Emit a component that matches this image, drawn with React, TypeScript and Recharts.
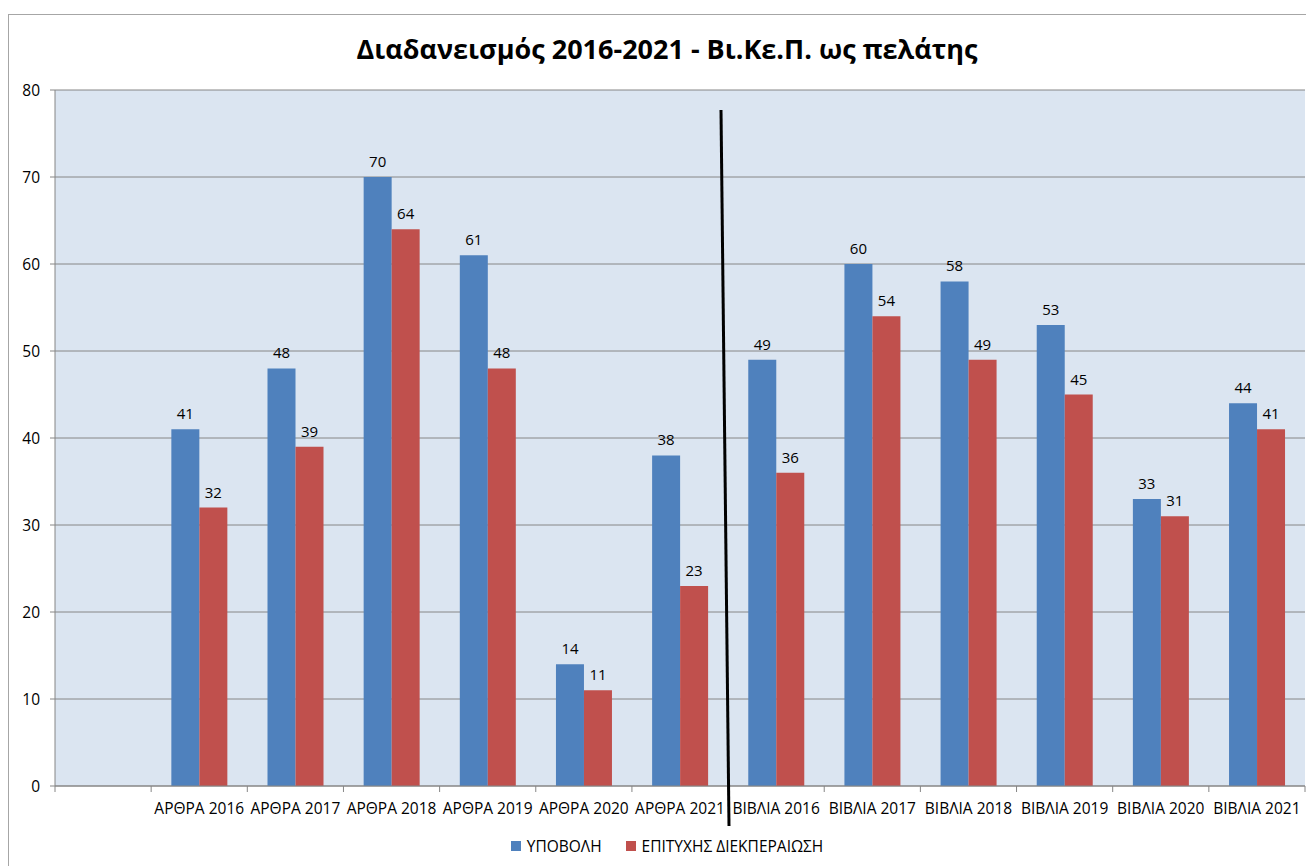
import React from 'react';
import { BarChart, Bar, XAxis, YAxis, CartesianGrid, LabelList } from 'recharts';

const categories = ['', 'ΑΡΘΡΑ 2016', 'ΑΡΘΡΑ 2017', 'ΑΡΘΡΑ 2018', 'ΑΡΘΡΑ 2019', 'ΑΡΘΡΑ 2020', 'ΑΡΘΡΑ 2021',
    'ΒΙΒΛΙΑ 2016', 'ΒΙΒΛΙΑ 2017', 'ΒΙΒΛΙΑ 2018', 'ΒΙΒΛΙΑ 2019', 'ΒΙΒΛΙΑ 2020', 'ΒΙΒΛΙΑ 2021'];
const submitted = [null, 41, 48, 70, 61, 14, 38, 49, 60, 58, 53, 33, 44];
const completed = [null, 32, 39, 64, 48, 11, 23, 36, 54, 49, 45, 31, 41];
const yTicks = [0, 10, 20, 30, 40, 50, 60, 70, 80];

const FONT = '"Open Sans", "DejaVu Sans", sans-serif';
const W = 1314;
const H = 866;
const PLOT_LEFT = 55;
const PLOT_RIGHT = 1305;
const PLOT_TOP = 90;
const PLOT_BOTTOM = 786;
const BAND = (PLOT_RIGHT - PLOT_LEFT) / categories.length;

const data = categories.map((c, i) => ({ name: c, sub: submitted[i], done: completed[i] }));

const XTick = (props: any) => {
    const { x, y, payload } = props;
    const left = x - BAND / 2;
    return (
        <g>
            <line x1={left} y1={PLOT_BOTTOM} x2={left} y2={PLOT_BOTTOM + 6} stroke="#868686" />
            {payload.index === categories.length - 1 && (
                <line x1={x + BAND / 2} y1={PLOT_BOTTOM} x2={x + BAND / 2} y2={PLOT_BOTTOM + 6} stroke="#868686" />
            )}
            <text x={x} y={y + 20} textAnchor="middle" fontSize={15.5} fill="#000" fontFamily={FONT}>
                {payload.value}
            </text>
        </g>
    );
};

export default function App() {
    return (
        <div style={{ position: 'relative', width: W, height: H, margin: '-8px 0 0 -8px', overflow: 'hidden', background: '#fff' }}>
            <div style={{ position: 'absolute', left: 8, top: 14, width: W + 20, height: H + 20, border: '1px solid #a6a6a6' }} />
            <div style={{ position: 'absolute', left: 0, top: 30, width: W + 20, textAlign: 'center', fontFamily: FONT, fontWeight: 700, fontSize: 27, color: '#000' }}>
                Διαδανεισμός 2016-2021 - Βι.Κε.Π. ως πελάτης
            </div>
            <div style={{ position: 'absolute', left: 0, top: 0 }}>
                <BarChart width={W} height={H} data={data}
                    margin={{ top: PLOT_TOP, right: W - PLOT_RIGHT, bottom: H - PLOT_BOTTOM - 40, left: 0 }}
                    barCategoryGap="21%" barGap={0}>
                    <CartesianGrid vertical={false} stroke="#868686" fill="#dbe5f1" />
                    <XAxis dataKey="name" interval={0} tick={<XTick />} tickLine={false} axisLine={{ stroke: '#868686' }} height={40} />
                    <YAxis width={PLOT_LEFT} domain={[0, 80]} ticks={yTicks} interval={0} tickSize={5} tickMargin={10}
                        axisLine={{ stroke: '#868686' }} tickLine={{ stroke: '#868686' }}
                        tick={{ fontSize: 15.5, fill: '#000', fontFamily: FONT }} />
                    <Bar dataKey="sub" fill="#4f81bd" isAnimationActive={false}>
                        <LabelList dataKey="sub" position="top" offset={10} fontSize={15} fill="#000" fontFamily={FONT} />
                    </Bar>
                    <Bar dataKey="done" fill="#c0504d" isAnimationActive={false}>
                        <LabelList dataKey="done" position="top" offset={10} fontSize={15} fill="#000" fontFamily={FONT} />
                    </Bar>
                </BarChart>
            </div>
            <svg style={{ position: 'absolute', left: 0, top: 0 }} width={W} height={H}>
                <line x1={721} y1={110} x2={729} y2={826} stroke="#000" strokeWidth={3} />
            </svg>
            <div style={{ position: 'absolute', left: 0, top: 835, width: W + 20, display: 'flex', justifyContent: 'center', gap: 24, fontFamily: FONT, fontSize: 15.5, color: '#000' }}>
                <span style={{ display: 'flex', alignItems: 'center', gap: 6 }}>
                    <span style={{ width: 10, height: 10, background: '#4f81bd', display: 'inline-block' }} />ΥΠΟΒΟΛΗ
                </span>
                <span style={{ display: 'flex', alignItems: 'center', gap: 6 }}>
                    <span style={{ width: 10, height: 10, background: '#c0504d', display: 'inline-block' }} />ΕΠΙΤΥΧΗΣ ΔΙΕΚΠΕΡΑΙΩΣΗ
                </span>
            </div>
        </div>
    );
}
